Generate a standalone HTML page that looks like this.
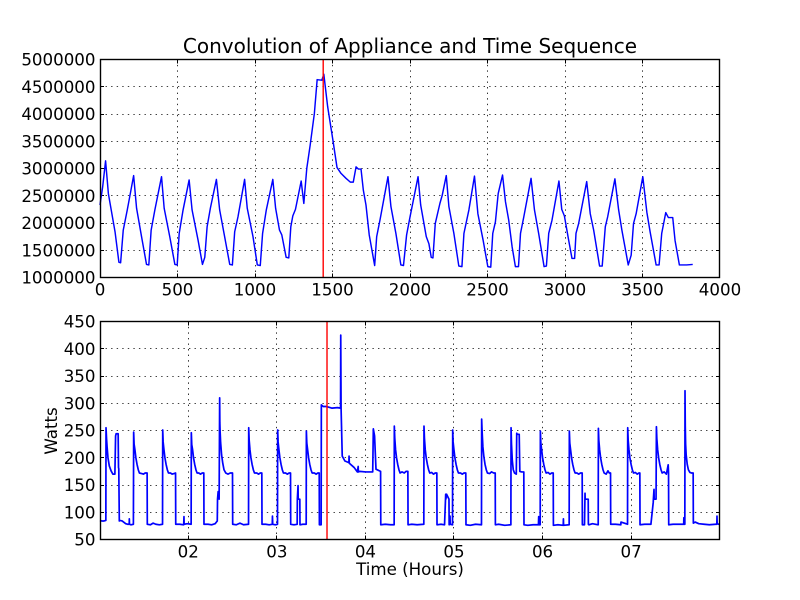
<!DOCTYPE html>
<html>
<head>
<meta charset="utf-8">
<title>Convolution of Appliance and Time Sequence</title>
<style>
html,body{margin:0;padding:0;background:#fff;}
svg{display:block;}
text{font-family:"DejaVu Sans","Liberation Sans",sans-serif;fill:#000;}
</style>
</head>
<body>
<svg id="fig" xmlns="http://www.w3.org/2000/svg" width="800" height="600" viewBox="0 0 800 600"></svg>
<script>
var convolutionX = [
0,17,36,54,97,122,133,150,176,217,236,268,300,315,330,354,397,414,450,483,498,511,536,575,594,633,661,676,691,712,751,772,804,837,854,869,890,933,950,987,1015,1034,1049,1073,1115,1133,1158,1173,1201,1218,1231,1244,1261,1298,1315,1334,1356,1383,1401,1431,1444,1469,1501,1529,1555,1587,1615,1634,1652,1667,1684,1699,1716,1737,1772,
1785,1806,1858,1877,1909,1941,1958,1978,2000,2052,2069,2105,2122,2137,2148,2163,2193,2208,2234,2251,2283,2315,2335,2348,2380,2416,2438,2472,2502,2521,2534,2551,2569,2597,2616,2637,2659,2680,2700,2713,2734,2781,2803,2830,2865,2880,2895,2916,2961,2979,2996,3024,3045,3062,3071,3088,3140,3163,3185,3223,3240,3260,3275,3322,3346,3367,3408,3427,3442,3459,3502,3528,3549,3588,3607,3624,3650,3667,3695,3710,3738,3785,3824];
var convolutionY = [
2.33,2.66,3.14,2.54,1.84,1.28,1.27,1.87,2.24,2.87,2.27,1.75,1.24,1.23,1.87,2.24,2.85,2.27,1.75,1.24,1.23,1.81,2.24,2.79,2.24,1.68,1.24,1.37,1.93,2.27,2.80,2.24,1.75,1.24,1.23,1.84,2.11,2.80,2.27,1.75,1.23,1.22,1.81,2.24,2.80,2.27,1.87,1.78,1.37,1.36,1.93,2.13,2.25,2.77,2.36,3.00,3.43,4.01,4.63,4.62,4.73,4.13,3.55,3.02,2.91,2.82,2.75,2.75,3.03,2.99,2.99,2.60,2.33,1.78,1.22,
1.75,2.05,2.85,2.30,1.81,1.23,1.22,1.78,2.11,2.85,2.33,1.75,1.62,1.37,1.36,1.99,2.36,2.51,2.87,2.30,1.81,1.21,1.20,1.81,2.24,2.86,2.17,1.68,1.20,1.19,1.81,2.02,2.54,2.88,2.39,2.05,1.56,1.20,1.20,1.81,2.11,2.82,2.24,1.81,1.20,1.21,1.81,2.05,2.77,2.25,2.13,1.68,1.35,1.35,1.81,1.99,2.76,2.17,1.87,1.21,1.21,1.93,2.11,2.81,2.24,1.87,1.23,1.41,1.99,2.17,2.85,2.20,1.84,1.23,1.23,1.81,2.19,2.10,2.10,1.68,1.23,1.23,1.24];

var powerDays = [
1.000,1.020,1.045,1.066,
1.068,1.074,1.080,1.090,1.105,1.125,1.145,1.168,
1.176,1.182,1.205,1.209,1.212,1.218,1.224,1.250,1.290,1.310,1.330,1.331,1.333,1.350,1.377,
1.380,1.385,1.394,1.405,1.418,1.432,1.445,1.470,1.490,1.510,1.532,1.534,1.570,1.600,1.630,1.670,1.706,
1.708,1.713,1.722,1.733,1.746,1.760,1.773,1.795,1.815,1.835,1.853,1.855,1.900,1.945,1.948,1.950,1.985,2.029,
2.031,2.036,2.045,2.056,2.069,2.083,2.096,2.115,2.135,2.155,2.172,2.174,2.220,2.260,2.300,2.324,2.327,2.334,2.345,
2.351,2.353,2.356,2.362,2.373,2.386,2.400,2.420,2.445,2.470,2.496,2.498,2.540,2.580,2.620,2.677,
2.679,2.684,2.693,2.704,2.717,2.731,2.744,2.770,2.790,2.810,2.827,2.829,2.870,2.910,2.945,2.947,2.950,2.980,3.004,
3.006,3.011,3.020,3.031,3.044,3.058,3.071,3.095,3.115,3.135,3.151,3.153,3.190,3.226,3.228,3.236,3.238,3.256,3.258,3.290,3.328,
3.330,3.335,3.344,3.355,3.368,3.382,3.395,3.420,3.440,3.460,3.475,3.477,3.497,
3.499,3.520,3.559,3.620,3.680,3.716,3.718,3.722,3.735,3.765,3.810,3.812,3.815,3.870,3.905,3.915,3.917,3.930,4.000,4.079,4.086,4.100,4.116,4.168,4.170,4.220,4.280,4.321,
4.323,4.328,4.337,4.348,4.361,4.375,4.388,4.410,4.435,4.455,4.476,4.478,4.520,4.580,4.656,
4.658,4.663,4.672,4.683,4.696,4.710,4.723,4.745,4.765,4.785,4.803,4.805,4.850,4.890,4.903,4.905,4.913,4.940,4.942,4.952,4.954,4.980,
4.982,4.987,4.996,5.007,5.020,5.034,5.047,5.070,5.090,5.110,5.130,5.132,5.180,5.240,5.307,
5.309,5.314,5.323,5.334,5.347,5.361,5.374,5.400,5.420,5.445,5.462,5.464,5.500,5.570,5.639,
5.641,5.646,5.655,5.666,5.680,5.700,5.705,5.708,5.733,5.740,5.760,5.785,5.787,5.830,5.890,5.950,5.953,5.955,5.970,
5.972,5.977,5.986,5.997,6.010,6.024,6.037,6.060,6.080,6.100,6.117,6.119,6.170,6.230,6.232,6.234,6.297,
6.299,6.304,6.313,6.324,6.337,6.351,6.364,6.385,6.405,6.425,6.444,6.446,6.470,6.476,6.478,6.484,6.512,6.514,6.520,6.560,6.625,
6.627,6.632,6.641,6.652,6.665,6.679,6.692,6.715,6.735,6.750,6.764,6.766,6.820,6.880,6.882,6.956,
6.958,6.963,6.972,6.983,6.996,7.010,7.023,7.045,7.065,7.085,7.095,7.097,7.150,7.220,7.246,7.248,7.255,7.257,7.278,
7.282,7.287,7.296,7.307,7.320,7.334,7.347,7.370,7.395,7.415,7.419,7.421,7.470,7.540,7.590,7.592,7.594,7.603,
7.605,7.608,7.612,7.618,7.630,7.643,7.660,7.680,7.697,7.699,7.720,7.760,7.820,7.880,7.950,7.964,7.966,7.968,7.985,8.000];
var powerWatts = [
85,84,84,85,
255,235,220,200,185,176,170,170,
240,244,244,182,180,84,85,84,79,78,78,88,78,77,78,
247,225,215,200,188,178,172,171,170,172,172,78,77,80,78,77,78,
251,229,215,200,188,178,172,172,170,171,172,78,78,77,92,78,79,78,
246,224,215,200,188,178,172,172,170,172,172,78,78,77,79,84,124,138,124,
310,265,249,228,205,190,178,172,170,172,172,78,77,80,77,78,
255,233,215,200,188,178,172,172,170,172,172,78,78,77,78,93,78,77,78,
251,229,215,200,188,178,172,172,170,172,172,78,77,78,124,149,124,124,77,78,78,
249,227,215,200,188,178,172,172,170,172,172,77,77,
297,294,294,291,292,291,425,290,203,194,191,203,190,182,174,184,174,175,174,174,253,240,179,175,77,78,77,77,
258,236,215,200,188,178,172,174,172,175,175,77,78,77,78,
258,236,215,200,188,178,172,173,170,172,172,77,78,77,133,124,133,124,77,93,78,77,
251,229,215,200,188,178,172,172,170,172,172,77,76,78,77,
271,249,220,202,188,178,172,171,174,172,172,77,78,76,77,
255,225,195,178,172,170,245,243,243,175,174,174,77,76,77,77,92,77,77,
249,227,215,200,188,178,172,173,170,172,172,76,77,76,88,76,77,
249,227,215,200,188,178,172,172,170,172,172,77,77,135,124,124,124,78,77,79,77,
254,232,215,200,188,178,172,170,176,172,172,78,78,77,82,78,
255,233,215,200,188,178,172,173,170,172,172,77,78,78,118,124,142,124,124,
257,235,215,200,188,178,172,174,170,187,172,77,78,78,78,90,78,78,
323,258,225,205,188,178,173,172,172,80,82,79,78,77,78,78,93,79,78,78];

var topXTicks = [0,500,1000,1500,2000,2500,3000,3500,4000];
var topYTicks = [1000000,1500000,2000000,2500000,3000000,3500000,4000000,4500000,5000000];
var bottomYTicks = [50,100,150,200,250,300,350,400,450];
var dayTicks = [1,2,3,4,5,6,7,8];
var dayLabels = ['','02','03','04','05','06','07',''];
var topMarkerX = 1440;
var bottomMarkerDay = 3.563;

var NS = 'http://www.w3.org/2000/svg';
var fig = document.getElementById('fig');
var L = 100, R = 720, T1 = 59.5, B1 = 277.5, T2 = 321.5, B2 = 539.5;
function px(v){ return Math.floor(v) + 0.5; }
function topX(v){ return L + (v - 0) * (R - L) / 4000; }
function topY(v){ return B1 - (v - 1000000) * (B1 - T1) / 4000000; }
function botX(v){ return L + (v - 1) * (R - L) / 7; }
function botY(v){ return B2 - (v - 50) * (B2 - T2) / 400; }

function line(x1, y1, x2, y2, color, dash){
  var el = document.createElementNS(NS, 'line');
  el.setAttribute('x1', x1);
  el.setAttribute('y1', y1);
  el.setAttribute('x2', x2);
  el.setAttribute('y2', y2);
  el.setAttribute('stroke', color);
  el.setAttribute('stroke-width', '1');
  if (dash) el.setAttribute('stroke-dasharray', dash);
  fig.appendChild(el);
  return el;
}
function label(x, y, str, size, anchor){
  var el = document.createElementNS(NS, 'text');
  el.setAttribute('x', x);
  el.setAttribute('y', y);
  el.setAttribute('font-size', size);
  el.setAttribute('text-anchor', anchor);
  el.textContent = str;
  fig.appendChild(el);
  return el;
}
function curve(xs, ys, fx, fy, width){
  var el = document.createElementNS(NS, 'polyline');
  var pts = [];
  for (var i = 0; i < xs.length; i++) pts.push(fx(xs[i]).toFixed(2) + ',' + fy(ys[i]).toFixed(2));
  el.setAttribute('points', pts.join(' '));
  el.setAttribute('fill', 'none');
  el.setAttribute('stroke', '#0000ff');
  el.setAttribute('stroke-width', width);
  el.setAttribute('stroke-linejoin', 'round');
  fig.appendChild(el);
  return el;
}
function drawTicksX(values, fx, top, bottom, texts, axisName, nudge){
  values.forEach(function(v, i){
    var x = px(fx(v) - nudge);
    if (i > 0 && i < values.length - 1) {
      var g = line(x, bottom, x, top, '#000', '1.4 4.16');
      g.setAttribute('stroke-width', '0.8');
      
      
      var t1 = line(x, bottom, x, bottom - 4, '#000');
      
      
      var t2 = line(x, top, x, top + 4, '#000');
      
      
    }
    if (texts[i] !== '') {
      var t = label(fx(v) - nudge, bottom + 18, texts[i], 16.67, 'middle');
      
      
    }
  });
}
function drawTicksY(values, fy, axisName){
  values.forEach(function(v, i){
    var y = px(fy(v));
    if (i > 0 && i < values.length - 1) {
      var g = line(L, y, R, y, '#000', '1.4 4.16');
      g.setAttribute('stroke-width', '0.8');
      
      
      var t1 = line(L, y, L + 4, y, '#000');
      
      
      var t2 = line(R, y, R - 4, y, '#000');
      
      
    }
    var t = label(95.5, fy(v) + 6, String(v), 16.67, 'end');
    
    
  });
}
function frame(top, bottom, name){
  var el = document.createElementNS(NS, 'rect');
  el.setAttribute('x', L + 0.5);
  el.setAttribute('y', top);
  el.setAttribute('width', R - L - 1);
  el.setAttribute('height', bottom - top);
  el.setAttribute('fill', 'none');
  el.setAttribute('stroke', '#000');
  el.setAttribute('stroke-width', '1.39');
  
  
  fig.appendChild(el);
}

/* top chart */
drawTicksX(topXTicks, topX, T1, B1, topXTicks.map(String), 'top-x-axis', 0);
drawTicksY(topYTicks, topY, 'top-y-axis');
var convLine = curve(convolutionX, convolutionY.map(function(v){ return v * 1000000; }), topX, topY, 1.45);


var topMarker = line(topX(topMarkerX), T1, topX(topMarkerX), B1, '#ff0000');
topMarker.setAttribute('stroke-width', '1.4');


frame(T1, B1, 'top-plot-frame');

/* bottom chart */
drawTicksX(dayTicks, botX, T2, B2, dayLabels, 'bottom-x-axis', 0.3);
drawTicksY(bottomYTicks, botY, 'bottom-y-axis');
var powerLine = curve(powerDays, powerWatts, botX, botY, 1.7);


var botMarker = line(botX(bottomMarkerDay), T2, botX(bottomMarkerDay), B2, '#ff0000');
botMarker.setAttribute('stroke-width', '1.4');


frame(T2, B2, 'bottom-plot-frame');

/* titles */
var title = label(410, 53, 'Convolution of Appliance and Time Sequence', 20, 'middle');


var xTitle = label(410, 575, 'Time (Hours)', 16.67, 'middle');


var yTitle = label(0, 0, 'Watts', 16.67, 'middle');
yTitle.setAttribute('transform', 'translate(57,431) rotate(-90)');


</script>
</body>
</html>
